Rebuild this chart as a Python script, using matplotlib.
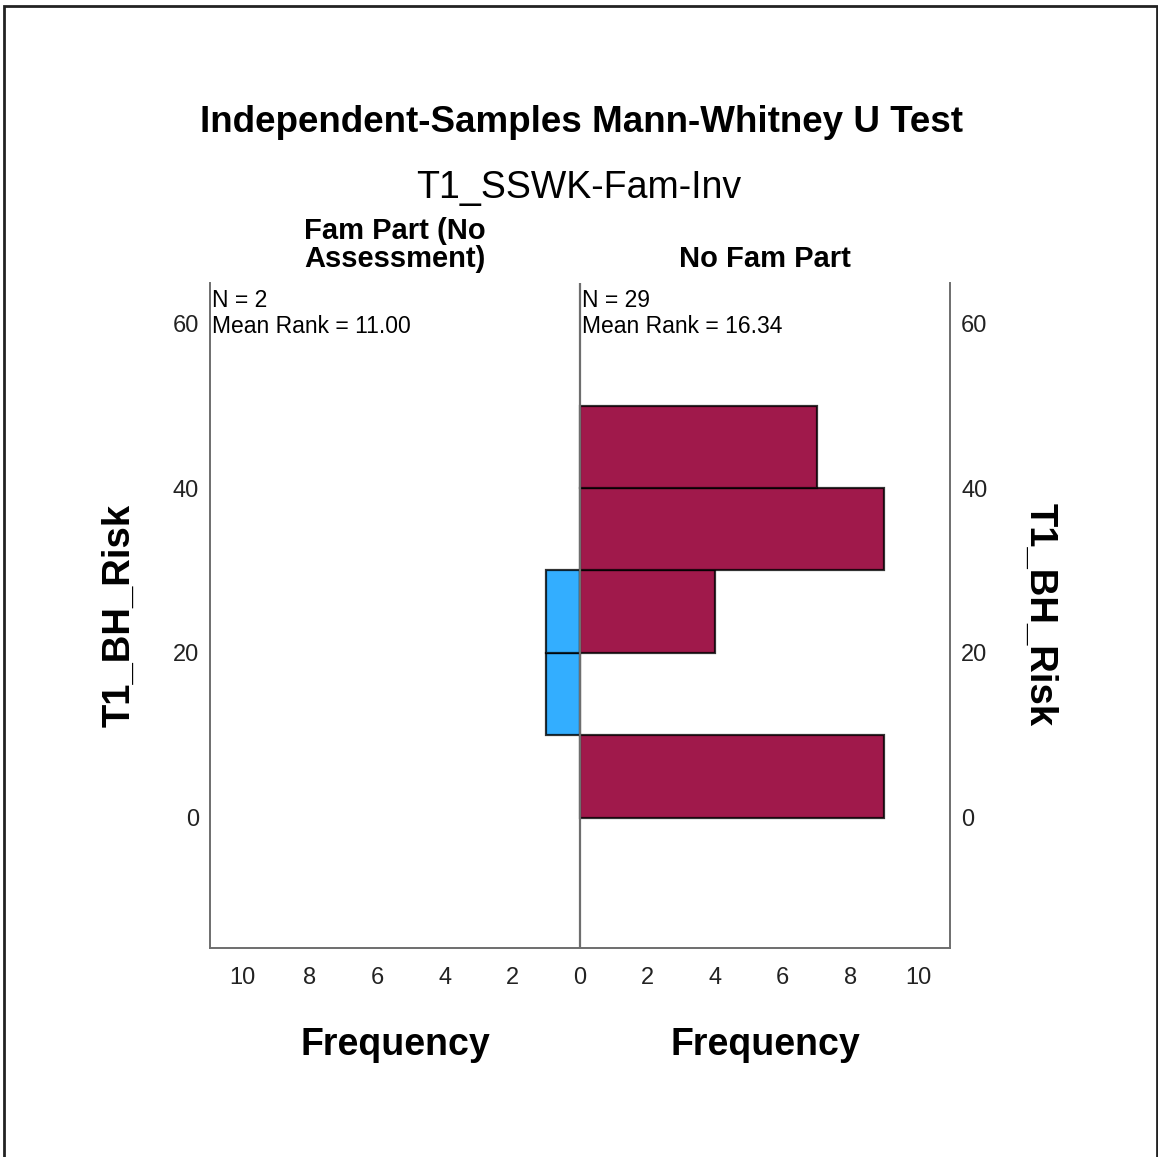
import numpy as np
import matplotlib
matplotlib.use('Agg')
import matplotlib.pyplot as plt
from matplotlib.patches import Rectangle

# ── Data ───────────────────────────────────────────────────────────────────────
BIN_EDGES    = [0, 10, 20, 30, 40, 50]
LEFT_COUNTS  = [0, 1, 1, 0, 0]      # Fam Part (No Assessment)
RIGHT_COUNTS = [9, 0, 4, 9, 7]      # No Fam Part
GROUPS       = ['Fam Part (No\nAssessment)', 'No Fam Part']
N_VALUES     = [2, 29]
MEAN_RANKS   = [11.00, 16.34]
X_TICKS      = [-10, -8, -6, -4, -2, 0, 2, 4, 6, 8, 10]
Y_TICKS      = [0, 20, 40, 60]

# ── Style ──────────────────────────────────────────────────────────────────────
W, H    = 1158, 1157
MAROON  = '#a0194b'
BLUE    = '#33aeff'
AXIS    = '#6e6e6e'
FONT    = 'Liberation Sans'

plt.rcParams['font.family'] = FONT

fig = plt.figure(figsize=(W / 100, H / 100), dpi=100)
fig.patch.set_facecolor('white')


def fx(px):
    return px / W


def fy(py):
    return 1 - py / H


# outer frame
fig.add_artist(Rectangle((fx(4), -0.01), fx(1157) - fx(4), fy(6) + 0.01,
                         transform=fig.transFigure, fill=False,
                         edgecolor='#222222', linewidth=2))

ax = fig.add_axes([fx(210), fy(948), fx(950) - fx(210), fy(283) - fy(948)])
ax.set_xlim(-10.95, 10.95)
ax.set_ylim(-15.76, 64.85)

starts = np.array(BIN_EDGES[:-1], dtype=float)
widths = np.diff(BIN_EDGES)
left   = np.array(LEFT_COUNTS, dtype=float)
right  = np.array(RIGHT_COUNTS, dtype=float)

mask_l = left > 0
mask_r = right > 0
ax.barh(starts[mask_l], -left[mask_l], height=widths[mask_l], align='edge',
        color=BLUE, edgecolor=(0, 0, 0, 0.8), linewidth=1.6, zorder=2)
ax.barh(starts[mask_r], right[mask_r], height=widths[mask_r], align='edge',
        color=MAROON, edgecolor=(0, 0, 0, 0.8), linewidth=1.6, zorder=2)

ax.axvline(0, color=AXIS, linewidth=1.6, zorder=3)

for side in ('left', 'right', 'bottom'):
    ax.spines[side].set_color(AXIS)
    ax.spines[side].set_linewidth(1.4)
ax.spines['top'].set_visible(False)

ax.set_xticks(X_TICKS)
ax.set_xticklabels([str(abs(t)) for t in X_TICKS])
ax.set_yticks(Y_TICKS)
ax.tick_params(axis='x', length=0, pad=14, labelsize=17, colors='#222222')
ax.tick_params(axis='y', length=0, pad=8, labelsize=17, colors='#222222',
               labelright=True)

# group statistics in the panel corners
for x0, n, mr in ((212, N_VALUES[0], MEAN_RANKS[0]), (582, N_VALUES[1], MEAN_RANKS[1])):
    fig.text(fx(x0), fy(289), f'N = {n}\nMean Rank = {mr:.2f}', ha='left', va='top',
             fontsize=16.5, linespacing=1.15, color='black')

# titles and labels
fig.text(fx(582), fy(122), 'Independent-Samples Mann-Whitney U Test', ha='center',
         va='center', fontsize=26.5, fontweight='bold')
fig.text(fx(579), fy(188), 'T1_SSWK-Fam-Inv', ha='center', va='center', fontsize=27)
fig.text(fx(395), fy(267), GROUPS[0], ha='center', va='baseline', fontsize=21,
         fontweight='bold', linespacing=1.0)
fig.text(fx(765), fy(267), GROUPS[1], ha='center', va='baseline', fontsize=21,
         fontweight='bold')
fig.text(fx(119), fy(615), 'T1_BH_Risk', ha='center', va='center', rotation=90,
         fontsize=27.5, fontweight='bold')
fig.text(fx(1040), fy(615), 'T1_BH_Risk', ha='center', va='center', rotation=270,
         fontsize=27.5, fontweight='bold')
fig.text(fx(395), fy(1045), 'Frequency', ha='center', va='center', fontsize=27,
         fontweight='bold')
fig.text(fx(765), fy(1045), 'Frequency', ha='center', va='center', fontsize=27,
         fontweight='bold')

fig.savefig('out.png', dpi=100, facecolor='white')
